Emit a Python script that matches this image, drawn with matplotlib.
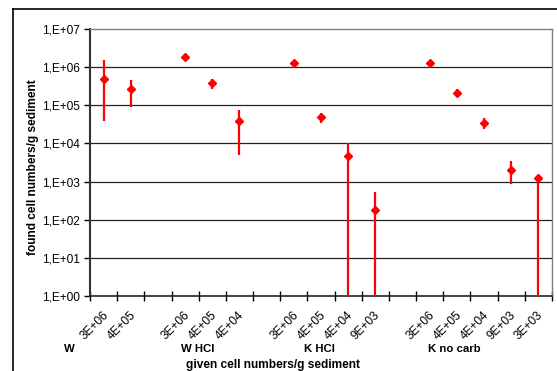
import numpy as np
import matplotlib
matplotlib.use("Agg")
import matplotlib.pyplot as plt
from matplotlib.lines import Line2D

plt.rcParams['font.family'] = ['Liberation Sans', 'DejaVu Sans']

# Category axis: dilution levels per treatment group (blank slots separate groups)
tick_labels = ["3E+06", "4E+05", "",
               "3E+06", "4E+05", "4E+04", "",
               "3E+06", "4E+05", "4E+04", "9E+03", "",
               "3E+06", "4E+05", "4E+04", "9E+03", "3E+03"]
groups = ["W", "W HCl", "K HCl", "K no carb"]
group_pos = [-1.25, 3.45, 7.95, 12.9]

nan = np.nan
found = [5.0e5, 2.7e5, nan,
         1.9e6, 3.8e5, 3.9e4, nan,
         1.25e6, 4.8e4, 4.8e3, 183, nan,
         1.32e6, 2.07e5, 3.4e4, 2.0e3, 1.27e3]
err_high = [1.5e6, 4.6e5, nan,
            2.0e6, 5.0e5, 7.4e4, nan,
            1.48e6, 6.2e4, 1.0e4, 520, nan,
            1.49e6, 2.7e5, 4.6e4, 3.5e3, 1.5e3]
err_low = [3.8e4, 9.0e4, nan,
           1.8e6, 2.6e5, 5.0e3, nan,
           9.3e5, 3.5e4, 0, 0, nan,
           1.14e6, 1.6e5, 2.4e4, 880, 0]

W, H = 557, 371
fig = plt.figure(figsize=(W / 100, H / 100), dpi=100)
ax = fig.add_axes([90 / W, 1 - 296 / H, 462 / W, 267 / H])

x = np.arange(len(tick_labels))
found = np.array(found, dtype=float)
hi = np.array(err_high, dtype=float)
lo = np.clip(np.array(err_low, dtype=float), 1e-3, None)

ax.set_yscale('log')
ax.set_ylim(1, 1e7)
ax.set_xlim(-0.5, len(tick_labels) - 0.5)

for yy in 10.0 ** np.arange(1, 7):
    ax.axhline(yy, color='#222222', lw=0.9, zorder=1)

ok = ~np.isnan(found)
ax.vlines(x[ok], lo[ok], hi[ok], color='#ff0000', lw=1.6, zorder=3)
ax.plot(x[ok], found[ok], 'D', color='#ff0000', ms=4.5, mec='#ff0000', zorder=4)

# Axes frame
for s in ['top', 'right']:
    ax.spines[s].set_color('#808080')
    ax.spines[s].set_linewidth(1.0)
ax.spines['left'].set_color('#333333')
ax.spines['left'].set_linewidth(1.5)
ax.spines['bottom'].set_color('#222222')
ax.spines['bottom'].set_linewidth(1.2)

ax.set_yticks(10.0 ** np.arange(0, 8))
ax.set_yticklabels([f"1,E+{k:02d}" for k in range(8)], fontsize=8.6)
ax.yaxis.set_minor_locator(matplotlib.ticker.NullLocator())
ax.tick_params(axis='y', length=4, width=1, direction='out', pad=3)

ax.set_xticks(np.arange(len(tick_labels) + 1) - 0.5)
ax.set_xticklabels([])
ax.tick_params(axis='x', length=7, width=1, direction='inout')

for xi, lab in zip(x, tick_labels):
    if lab:
        ax.text(xi - 0.05, -0.05, lab, transform=ax.get_xaxis_transform(),
                rotation=45, ha='right', va='top', rotation_mode='anchor',
                fontsize=8.6)

for gx, g in zip(group_pos, groups):
    ax.text(gx, -0.2, g, transform=ax.get_xaxis_transform(),
            ha='center', va='center', fontsize=8.2, fontweight='bold')

fig.text(273 / W, 1 - 365 / H, "given cell numbers/g sediment",
         ha='center', va='center', fontsize=8.6, fontweight='bold')
fig.text(33 / W, 1 - 167 / H, "found cell numbers/g sediment",
         ha='center', va='center', rotation=90, fontsize=8.6, fontweight='bold')

# Chart area border
fig.add_artist(Line2D([13 / W, 13 / W], [0, 1 - 9 / H], color='black', lw=1.2,
                      transform=fig.transFigure))
fig.add_artist(Line2D([13 / W, 1], [1 - 9 / H, 1 - 9 / H], color='black', lw=1.2,
                      transform=fig.transFigure))

fig.savefig("out.png", dpi=100)
